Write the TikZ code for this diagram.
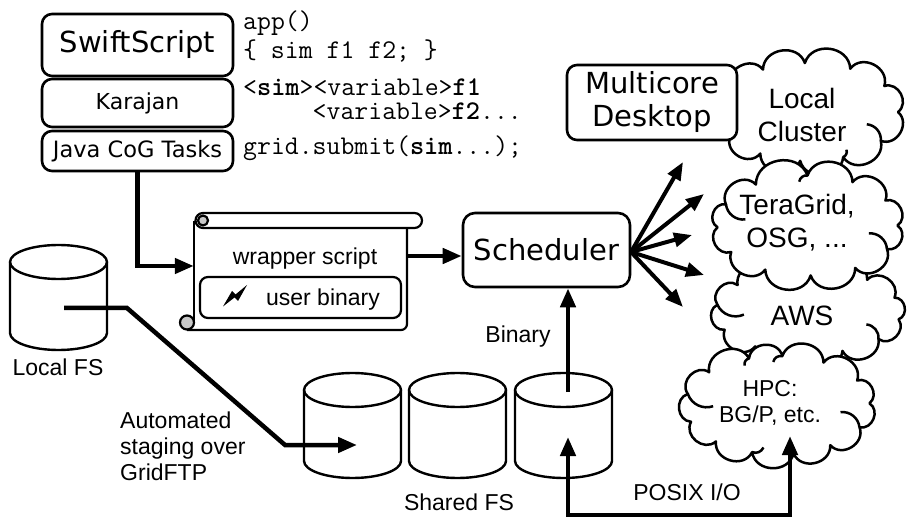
\documentclass[tikz,border=0pt]{standalone}
\usepackage{fontspec}
\setmainfont{Liberation Sans}
\newfontfamily\dvs{DejaVu Sans}
\usetikzlibrary{arrows.meta,calc}
\definecolor{curl}{HTML}{C8C8C8}
\newcommand{\mycyl}[3]{%
  \node[inner sep=0pt, minimum width=97pt, minimum height=105pt] (#1) at (#2,#3+52.5) {};
  \draw[cylline, fill=white] (#2-48.5,#3+17) -- (#2-48.5,#3+88) arc[start angle=180,end angle=360,x radius=48.5pt,y radius=17pt]
     -- (#2+48.5,#3+17) arc[start angle=0,end angle=180,x radius=48.5pt,y radius=17pt] -- cycle;
  \draw[cylline] (#2+48.5,#3+17) arc[start angle=0,end angle=-180,x radius=48.5pt,y radius=17pt];
}
% name, cx, cy, a, b, first angle, remaining angles (ending with first+360)
\newcommand{\mycloud}[7]{%
  \node[inner sep=0pt, minimum width=2*#4pt, minimum height=2*#5pt] (#1) at (#2,#3) {};
  \draw[cloudline, fill=white] ({#2+#4*cos(#6)},{#3+#5*sin(#6)})
    foreach \t in {#7} { to[bend left=80, looseness=1.3] ({#2+#4*cos(\t)},{#3+#5*sin(\t)}) } -- cycle;
}
% cx, cy, a, b, list of angle/scale
\newcommand{\myhooks}[5]{%
  \foreach \t/\s in {#5}
    \draw[cloudline] ({#1+#3*cos(\t)},{#2+#4*sin(\t)}) to[bend right=45]
      ({#1+\s*#3*cos(\t-50*(1-\s))},{#2+\s*#4*sin(\t-50*(1-\s))});
}
\begin{document}
\begin{tikzpicture}[x=1pt,y=-1pt,
  box/.style={draw, line width=2.6pt, rounded corners=10pt, fill=white, inner sep=0pt, align=center},
  arr/.style={line width=4.5pt, -{Triangle[length=19pt,width=15pt]}},
  farr/.style={line width=4pt, -{Triangle[length=18pt,width=14pt]}},
  darr/.style={line width=4.5pt, {Triangle[length=19pt,width=15pt]}-{Triangle[length=19pt,width=15pt]}},
  cloudline/.style={line width=2.5pt, line join=round},
  lbl/.style={font=\fontsize{23}{26}\selectfont, inner sep=0pt, anchor=base},
  big/.style={font=\fontsize{28}{33}\selectfont, inner sep=0pt, anchor=base, align=center},
  code/.style={font=\ttfamily\fontsize{27}{24}\selectfont, anchor=base west, inner sep=0pt, align=left},
  cylline/.style={line width=2.4pt},
  sl/.style={line width=2.2pt, line join=round},
]
\useasboundingbox (0,0) rectangle (907,518);
\clip (0,0) rectangle (907,518);

% ---- left stack
\node[box, minimum width=191pt, minimum height=62pt, font=\dvs\fontsize{29}{33}\selectfont] (swift) at (137.5,45) {SwiftScript};
\node[box, minimum width=191pt, minimum height=48pt, font=\dvs\fontsize{22}{26}\selectfont] (karajan) at (137.5,103) {Karajan};
\node[box, minimum width=191pt, minimum height=40pt, font=\dvs\fontsize{22.5}{26}\selectfont] (java) at (137.5,151) {Java CoG Tasks};

% ---- code
\node[code] (c1) at (243,30) {app()};
\node[code] (c2) at (243,59) {\{ sim f1 f2; \}};
\node[code] (c3) at (243,120) {<\textbf{sim}><variable>\textbf{f1}\\\phantom{<sim>}<variable>\textbf{f2}...};
\node[code] (c5) at (243,155) {grid.submit(\textbf{sim}...);};

% ---- clouds
\mycloud{lc}{808}{112}{90}{49}{36}{67,95,122,150,180,210,240,268,298,328,360,396}
\myhooks{808}{112}{90}{49}{36/0.7,67/0.88}
\mycloud{aws}{808}{312}{92}{42}{40}{68,96,125,155,190,220,250,280,310,340,370,400}
\myhooks{808}{312}{92}{42}{40/0.7,190/0.7}
\mycloud{tg}{807.5}{225.5}{90}{50}{28}{58,88,118,148,178,205,235,270,300,330,360,388}
\myhooks{807.5}{225.5}{90}{50}{28/0.7,205/0.7,270/0.88}
\mycloud{hpc}{777.5}{405}{92}{49}{27}{55,80,106,132,160,193,222,252,273,300,330,358,387}
\myhooks{777.5}{405}{92}{49}{27/0.7,193/0.7,252/0.88,273/0.88,106/0.88}
\node[big] (lct) at (802,142) {Local\\Cluster};
\node[big] (tgt) at (797,248) {TeraGrid,\\OSG, ...};
\node[big] (awst) at (802,326) {AWS};
\node[lbl, align=center] (hpct) at (770,422) {HPC:\\BG/P, etc.};

\node[box, minimum width=170pt, minimum height=75pt, font=\dvs\fontsize{29}{33}\selectfont] (multi) at (652,102.5) {Multicore\\Desktop};

% ---- scroll
\node[inner sep=0pt, minimum width=213pt, minimum height=108pt] (scroll) at (300.5,276) {};
\fill[white] (194,222) rectangle (407,330);
\draw[sl] (194,221) -- (194,323);
\draw[sl, rounded corners=6pt] (187,330) -- (407,330) -- (407,226);
\draw[sl, fill=curl] (187,322.5) circle (7pt);
\draw[sl, fill=white] (203,213) -- (414.5,213) arc (90:-90:7.5pt) -- (203,228) arc (-90:-270:7.5pt) -- cycle;
\draw[sl, fill=curl] (203,220.5) circle (5pt);
\node[lbl] (wt) at (305,265) {wrapper script};
\node[draw, line width=2.2pt, rounded corners=8pt, minimum width=201pt, minimum height=41pt, inner sep=0pt] (ub) at (300.5,297.5) {};
\node[lbl] (ubt) at (323,306) {user binary};
\fill (247,285) -- (238,301) -- (234.5,297.5) -- (223,306.5) -- (232,291) -- (235.5,294.5) -- cycle;

% ---- scheduler
\node[box, rounded corners=12pt, minimum width=167pt, minimum height=74pt, font=\dvs\fontsize{29}{33}\selectfont] (sched) at (546.5,250) {Scheduler};

% ---- cylinders
\mycyl{lfs}{58.5}{245}
\mycyl{s1}{352.5}{373}
\mycyl{s2}{457.5}{373}
\mycyl{s3}{563.5}{373}
\node[lbl] (lfst) at (58,375) {Local FS};
\node[lbl] (sfst) at (459,510) {Shared FS};
\node[lbl, anchor=base west, align=left] (autot) at (120,480) {Automated\\staging over\\GridFTP};
\node[lbl] (bint) at (518,342) {Binary};
\node[lbl] (posixt) at (687,500) {POSIX I/O};

% ---- connectors
\coordinate (ya) at (0,266);
\draw[arr] (java.south) |- (scroll.west |- ya);
\coordinate (yb) at (0,256);
\draw[arr] (scroll.east |- yb) -- (sched.west |- yb);

\coordinate (t1) at (683,162);
\coordinate (t2) at (704,194);
\coordinate (t3) at (692,235);
\coordinate (t4) at (704,275);
\coordinate (t5) at (683,307);
\coordinate (fo) at (631,252);
\foreach \t in {t1,t2,t3,t4,t5} \draw[farr] (fo) -- (\t);

\coordinate (b0) at (568,392);
\draw[arr] (b0) -- (b0 |- sched.south);

\coordinate (l0) at (64,308);
\coordinate (l1) at (127,308);
\coordinate (l2) at (285,445);
\coordinate (l3) at (357,445);
\draw[arr, line join=miter] (l0) -- (l1) -- (l2) -- (l3);

\coordinate (pa) at (568,437);
\coordinate (pb) at (790,436);
\coordinate (pbot) at (0,515);
\draw[darr] (pa) -- (pa |- pbot) -- (pb |- pbot) -- (pb);
\end{tikzpicture}
\end{document}
